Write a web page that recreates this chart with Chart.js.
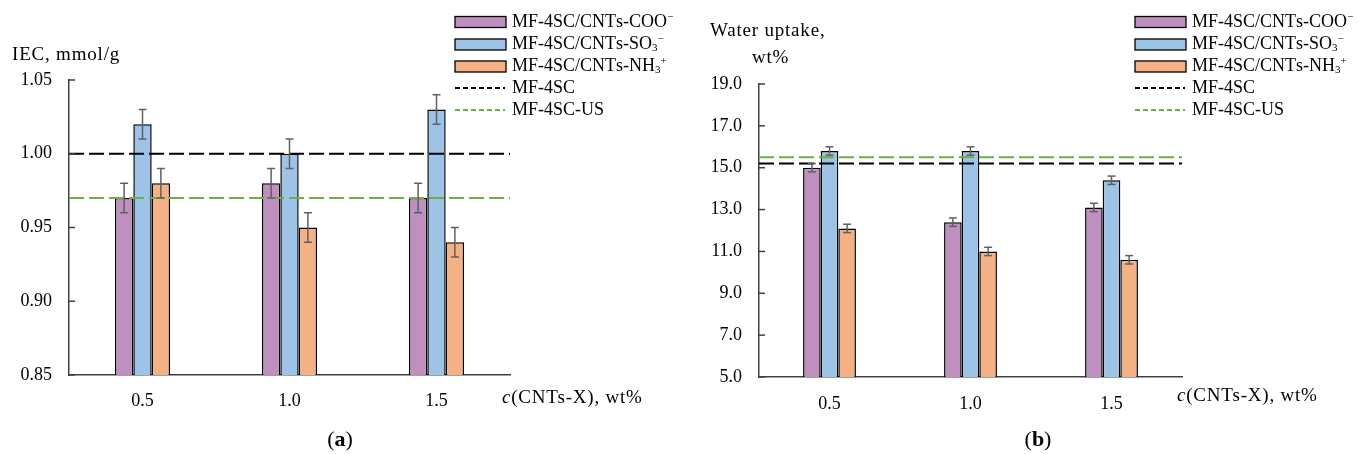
<!DOCTYPE html>
<html>
<head>
<meta charset="utf-8">
<script src="https://cdn.jsdelivr.net/npm/chart.js@4.4.0/dist/chart.umd.min.js"></script>
<style>
  body { margin: 0; background: #fff; }
  .box { position: absolute; top: 0; height: 454px; }
</style>
</head>
<body>
<div class="box" style="left:0;width:680px"><canvas id="iec" width="680" height="454"></canvas></div>
<div class="box" style="left:680px;width:679px"><canvas id="water" width="679" height="454"></canvas></div>
<script>
// shared labels
const categories = ['0.5', '1.0', '1.5'];
const seriesLabels = ['MF-4SC/CNTs-COO⁻', 'MF-4SC/CNTs-SO₃⁻', 'MF-4SC/CNTs-NH₃⁺'];
const refLabels = ['MF-4SC', 'MF-4SC-US'];

// (a) ion exchange capacity, mmol/g
const iecCOO = [0.97, 0.98, 0.97];
const iecSO3 = [1.02, 1.00, 1.03];
const iecNH3 = [0.98, 0.95, 0.94];
const iecErrCOO = [0.01, 0.01, 0.01];
const iecErrSO3 = [0.01, 0.01, 0.01];
const iecErrNH3 = [0.01, 0.01, 0.01];
const iecRef = [1.00, 0.97];

// (b) water uptake, wt%
const waterCOO = [15.0, 12.4, 13.1];
const waterSO3 = [15.8, 15.8, 14.4];
const waterNH3 = [12.1, 11.0, 10.6];
const waterErrCOO = [0.2, 0.2, 0.2];
const waterErrSO3 = [0.2, 0.2, 0.2];
const waterErrNH3 = [0.2, 0.2, 0.2];
const waterRef = [15.2, 15.5];

const barColors = ['#bf8fbf', '#9dc3e6', '#f4b183'];
const refColors = ['#000000', '#70ad47'];
const FONT = 'Liberation Serif';
const AXIS = '#404040';

// draws a label, turning ₃ ⁻ ⁺ into small lowered / raised glyphs
function drawRich(ctx, text, x, y) {
  const sub = { '₃': '3' }, sup = { '⁻': '−', '⁺': '+' };
  ctx.textBaseline = 'middle';
  ctx.textAlign = 'left';
  for (const ch of text) {
    let t = ch, dy = 0, size = 18;
    if (sub[ch]) { t = sub[ch]; dy = 4; size = 11; }
    else if (sup[ch]) { t = sup[ch]; dy = -5; size = 11; }
    ctx.font = size + 'px "' + FONT + '"';
    ctx.fillText(t, x, y + dy);
    x += ctx.measureText(t).width;
  }
}

function line(ctx, x1, y1, x2, y2) {
  ctx.beginPath();
  ctx.moveTo(x1, y1);
  ctx.lineTo(x2, y2);
  ctx.stroke();
}

const decor = {
  id: 'decor',
  afterDatasetsDraw(chart, args, o) {
    const { ctx, chartArea: a, scales: { y } } = chart;
    ctx.save();
    // reference lines
    ctx.lineWidth = 2;
    ctx.setLineDash([15, 5]);
    o.refs.forEach((v, i) => {
      ctx.strokeStyle = refColors[i];
      const py = y.getPixelForValue(v);
      line(ctx, a.left, py, a.right, py);
    });
    ctx.setLineDash([]);
    // error bars
    ctx.strokeStyle = '#606060';
    ctx.lineWidth = 1.5;
    chart.data.datasets.forEach((ds, di) => {
      const meta = chart.getDatasetMeta(di);
      ds.data.forEach((v, i) => {
        const e = o.errors[di][i];
        const px = meta.data[i].x;
        const y1 = y.getPixelForValue(v + e), y2 = y.getPixelForValue(v - e);
        line(ctx, px, y1, px, y2);
        line(ctx, px - 4, y1, px + 4, y1);
        line(ctx, px - 4, y2, px + 4, y2);
      });
    });
    // inward tick marks
    ctx.strokeStyle = AXIS;
    ctx.lineWidth = 1.5;
    y.ticks.forEach(t => {
      const py = y.getPixelForValue(t.value);
      line(ctx, a.left, py, a.left + 6, py);
    });
    ctx.restore();
  },
  afterDraw(chart, args, o) {
    const ctx = chart.ctx;
    ctx.save();
    ctx.fillStyle = '#000';
    // legend
    const rows = [22, 44.5, 66.5, 88, 110];
    seriesLabels.forEach((lab, i) => {
      ctx.fillStyle = barColors[i];
      ctx.fillRect(455, rows[i] - 5.5, 51, 11);
      ctx.strokeStyle = '#000';
      ctx.lineWidth = 1.3;
      ctx.strokeRect(455, rows[i] - 5.5, 51, 11);
      ctx.fillStyle = '#000';
      drawRich(ctx, lab, 512, rows[i]);
    });
    refLabels.forEach((lab, i) => {
      const ry = rows[i + 3];
      ctx.strokeStyle = refColors[i];
      ctx.lineWidth = 2;
      ctx.setLineDash([5, 3]);
      line(ctx, 455, ry, 505, ry);
      ctx.setLineDash([]);
      ctx.fillStyle = '#000';
      drawRich(ctx, lab, 512, ry);
    });
    // axis titles
    ctx.fillStyle = '#000';
    ctx.textBaseline = 'alphabetic';
    ctx.textAlign = 'left';
    ctx.letterSpacing = '0.8px';
    ctx.font = '19px "' + FONT + '"';
    o.yTitle.forEach(t => ctx.fillText(t.text, t.x, t.y));
    const xt = o.xTitle;
    ctx.font = 'italic 19px "' + FONT + '"';
    ctx.fillText('c', xt.x, xt.y);
    const cw = ctx.measureText('c').width;
    ctx.font = '19px "' + FONT + '"';
    ctx.fillText('(CNTs-X), wt%', xt.x + cw, xt.y);
    ctx.letterSpacing = '0px';
    // caption
    ctx.font = '22px "' + FONT + '"';
    const c = o.caption;
    const w1 = ctx.measureText('(').width;
    ctx.font = 'bold 22px "' + FONT + '"';
    const w2 = ctx.measureText(c.letter).width;
    ctx.font = '22px "' + FONT + '"';
    const w3 = ctx.measureText(')').width;
    let cx = c.x - (w1 + w2 + w3) / 2;
    ctx.fillText('(', cx, c.y);
    ctx.font = 'bold 22px "' + FONT + '"';
    ctx.fillText(c.letter, cx + w1, c.y);
    ctx.font = '22px "' + FONT + '"';
    ctx.fillText(')', cx + w1 + w2, c.y);
    ctx.restore();
  }
};

function makeChart(id, s) {
  const datasets = s.series.map((d, i) => ({
    label: seriesLabels[i],
    data: d,
    backgroundColor: barColors[i],
    borderColor: '#000',
    borderWidth: 1.5,
    borderSkipped: false,
    categoryPercentage: 0.375,
    barPercentage: 1
  }));
  const tickFont = { family: FONT, size: 18 };
  return new Chart(document.getElementById(id), {
    type: 'bar',
    data: { labels: categories, datasets: datasets },
    options: {
      responsive: false,
      animation: false,
      devicePixelRatio: 1,
      layout: { padding: { top: s.top, right: s.right, bottom: 0, left: 0 } },
      plugins: {
        legend: { display: false },
        tooltip: { enabled: false },
        decor: { refs: s.refs, errors: s.errors, yTitle: s.yTitle, xTitle: s.xTitle, caption: s.caption }
      },
      scales: {
        x: {
          grid: { display: false, drawTicks: false },
          border: { display: true, color: AXIS, width: 1.5 },
          ticks: { font: tickFont, color: '#000', padding: s.xPad },
          afterFit: sc => { sc.height = s.bottom; }
        },
        y: {
          min: s.min, max: s.max,
          grid: { display: false, drawTicks: false },
          border: { display: true, color: AXIS, width: 1.5 },
          ticks: {
            stepSize: s.step, font: tickFont, color: '#000', padding: 17,
            callback: v => Number(v).toFixed(s.dec)
          },
          afterFit: sc => { sc.width = s.axisW; }
        }
      }
    },
    plugins: [decor]
  });
}

makeChart('iec', {
  series: [iecCOO, iecSO3, iecNH3],
  errors: [iecErrCOO, iecErrSO3, iecErrNH3],
  refs: iecRef,
  min: 0.85, max: 1.05, step: 0.05, dec: 2,
  top: 80, right: 170, bottom: 79, axisW: 69, xPad: 15,
  yTitle: [{ text: 'IEC, mmol/g', x: 12, y: 60 }],
  xTitle: { x: 502, y: 403 },
  caption: { letter: 'a', x: 340, y: 446 }
});

makeChart('water', {
  series: [waterCOO, waterSO3, waterNH3],
  errors: [waterErrCOO, waterErrSO3, waterErrNH3],
  refs: waterRef,
  min: 5, max: 19, step: 2, dec: 1,
  top: 84, right: 177, bottom: 77, axisW: 79, xPad: 16,
  yTitle: [{ text: 'Water uptake,', x: 30, y: 36 }, { text: 'wt%', x: 72, y: 63 }],
  xTitle: { x: 497, y: 401 },
  caption: { letter: 'b', x: 358, y: 446 }
});
</script>
</body>
</html>
